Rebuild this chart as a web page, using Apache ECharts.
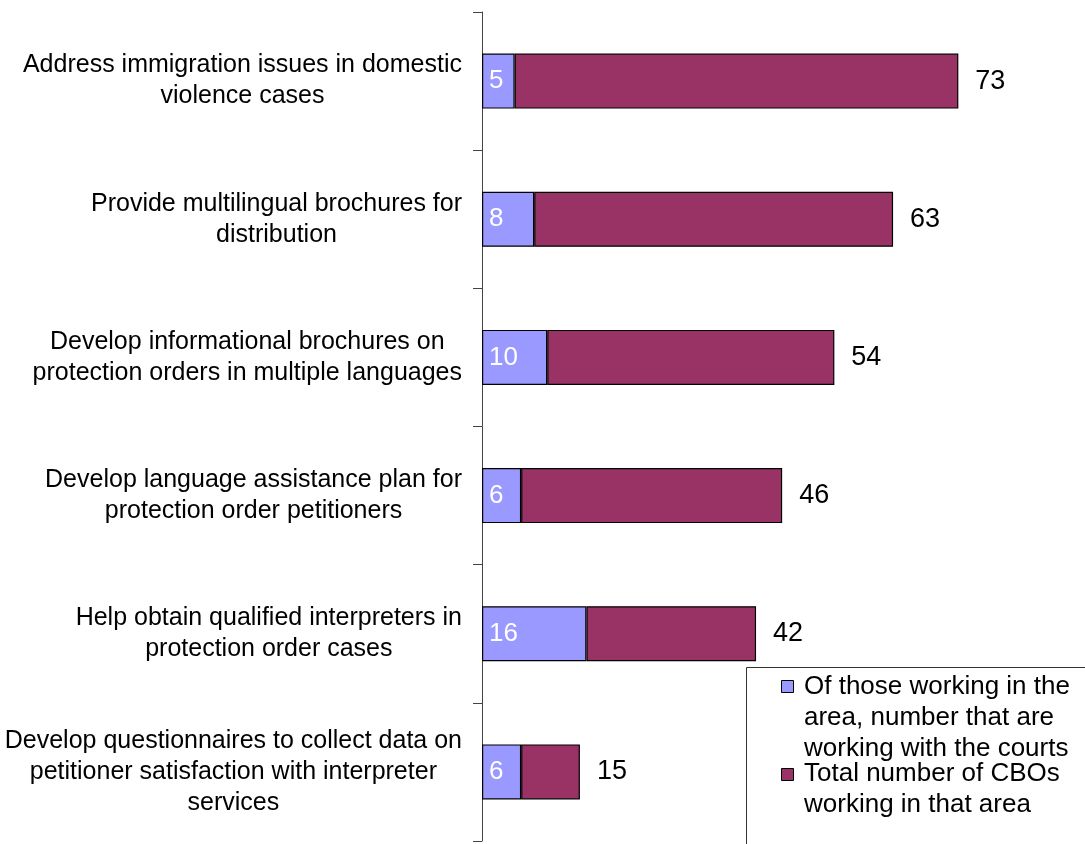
<!DOCTYPE html>
<html>
<head>
<meta charset="utf-8">
<title>CBO language access activities</title>
<script src="https://cdn.jsdelivr.net/npm/echarts@6/dist/echarts.min.js"></script>
<style>
  html, body { margin: 0; padding: 0; background: #fff; }
  #chart { width: 1085px; height: 844px; }
</style>
</head>
<body>
<div id="chart"></div>
<script>
// Activity areas, top to bottom
const categories = [
  'Address immigration issues in domestic\nviolence cases',
  'Provide multilingual brochures for\ndistribution',
  'Develop informational brochures on\nprotection orders in multiple languages',
  'Develop language assistance plan for\nprotection order petitioners',
  'Help obtain qualified interpreters in\nprotection order cases',
  'Develop questionnaires to collect data on\npetitioner satisfaction with interpreter\nservices'
];

// CBOs working in the area that also work with the courts
const withCourts = [5, 8, 10, 6, 16, 6];
// Total number of CBOs working in the area
const totals = [73, 63, 54, 46, 42, 15];

const legendNames = [
  'Of those working in the\narea, number that are\nworking with the courts',
  'Total number of CBOs\nworking in that area'
];

const FONT = "'Liberation Sans', Arial, sans-serif";
const BLUE = '#9999FF';
const MAROON = '#993366';

// The maroon segment fills the bar from the court count up to the total
const remainder = totals.map((t, i) => t - withCourts[i]);

const chart = echarts.init(document.getElementById('chart'), null, { renderer: 'canvas' });

chart.setOption({
  animation: false,
  backgroundColor: '#ffffff',
  grid: { left: 482, right: 81, top: 12, bottom: 3, containLabel: false },
  xAxis: {
    type: 'value',
    min: 0,
    max: 80,
    show: false
  },
  yAxis: {
    type: 'category',
    inverse: true,
    data: categories,
    axisLine: { show: true, lineStyle: { color: '#444444', width: 1 } },
    axisTick: { show: true, length: 9, lineStyle: { color: '#444444', width: 1 } },
    axisLabel: {
      margin: 20,
      align: 'right',
      fontFamily: FONT,
      fontSize: 25,
      lineHeight: 31,
      color: '#000',
      formatter: v => v.split('\n').map(s => '{c|' + s + '}').join('\n'),
      rich: {
        c: { align: 'center', fontFamily: FONT, fontSize: 25, lineHeight: 31, color: '#000' }
      }
    },
    splitLine: { show: false }
  },
  series: [
    {
      name: legendNames[0],
      type: 'bar',
      stack: 'cbo',
      data: withCourts,
      barWidth: 55,
      itemStyle: { color: BLUE, borderColor: '#000', borderWidth: 1.2 },
      label: {
        show: true,
        position: 'insideLeft',
        distance: 7,
        fontFamily: FONT,
        fontSize: 26,
        color: '#ffffff'
      }
    },
    {
      name: legendNames[1],
      type: 'bar',
      stack: 'cbo',
      data: remainder,
      barWidth: 55,
      itemStyle: { color: MAROON, borderColor: '#000', borderWidth: 1.2 },
      label: {
        show: true,
        position: 'right',
        distance: 17,
        fontFamily: FONT,
        fontSize: 27,
        color: '#000',
        formatter: p => String(totals[p.dataIndex])
      }
    }
  ],
  graphic: [
    {
      type: 'rect',
      left: 746,
      top: 667,
      shape: { width: 360, height: 200 },
      style: { fill: '#ffffff', stroke: '#333333', lineWidth: 1 },
      z: 10
    },
    {
      type: 'rect',
      left: 781,
      top: 680,
      shape: { width: 12, height: 12 },
      style: { fill: BLUE, stroke: '#000', lineWidth: 1 },
      z: 11
    },
    {
      type: 'text',
      left: 804,
      top: 671,
      style: { text: legendNames[0], font: '26px ' + FONT, lineHeight: 31, fill: '#000' },
      z: 11
    },
    {
      type: 'rect',
      left: 781,
      top: 768,
      shape: { width: 12, height: 12 },
      style: { fill: MAROON, stroke: '#000', lineWidth: 1 },
      z: 11
    },
    {
      type: 'text',
      left: 804,
      top: 758,
      style: { text: legendNames[1], font: '26px ' + FONT, lineHeight: 31, fill: '#000' },
      z: 11
    }
  ]
});
</script>
</body>
</html>
